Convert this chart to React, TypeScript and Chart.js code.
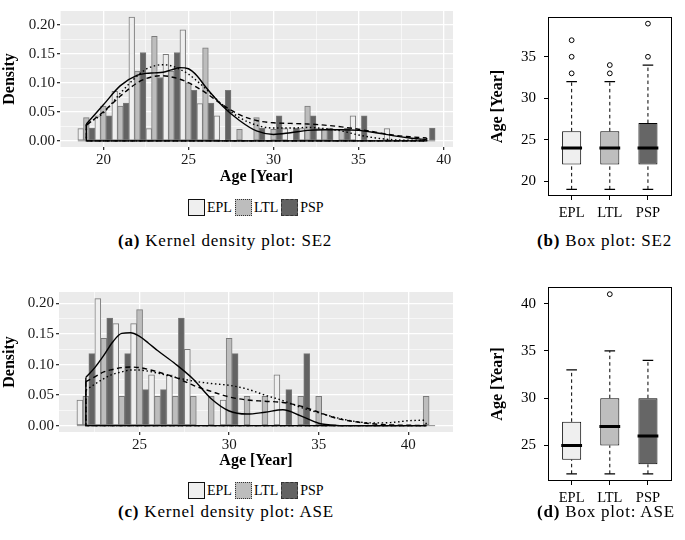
import React, { useEffect, useRef } from 'react';
import { Chart, registerables } from 'chart.js';
Chart.register(...registerables);

const FONT = "'Liberation Serif', 'Times New Roman', serif";

const GROUPS = ['EPL', 'LTL', 'PSP'];
const BAR_FILLS = ['#EFEFEF', '#BDBDBD', '#636363'];
const BOX_FILLS = ['#EFEFEF', '#BEBEBE', '#666666'];

// ---------- (a) SE2 histogram (density) ----------
const SE2_YEARS = [19, 20, 21, 22, 23, 24, 25, 26, 27, 28, 29, 30, 31, 32, 33, 34, 35, 36, 37, 38, 39];
const SE2_EPL = [0.021, 0.043, 0.085, 0.213, 0.021, 0.149, 0.191, 0.064, 0.043, 0, 0, 0, 0.021, 0.021, 0.021, 0, 0.043, 0, 0.021, 0, 0];
const SE2_LTL = [0.04, 0.06, 0.06, 0.12, 0.18, 0.12, 0.1, 0.16, 0, 0.02, 0.04, 0.02, 0, 0.06, 0.02, 0.02, 0, 0, 0, 0, 0];
const SE2_PSP = [0.022, 0.043, 0.065, 0.152, 0.109, 0.152, 0.087, 0.065, 0.087, 0, 0.022, 0.043, 0.022, 0.043, 0.022, 0.022, 0.043, 0, 0, 0, 0.022];

const SE2_KDE_X = [19, 20, 21, 22, 22.5, 23, 23.5, 24, 24.5, 25, 25.5, 26, 27, 28, 29, 30, 31, 32, 33, 34, 35, 36, 37, 38, 39];
const SE2_KDE_EPL = [0.029, 0.062, 0.095, 0.113, 0.116, 0.117, 0.118, 0.122, 0.126, 0.124, 0.112, 0.093, 0.06, 0.035, 0.017, 0.011, 0.014, 0.018, 0.019, 0.019, 0.018, 0.014, 0.009, 0.005, 0.002];
const SE2_KDE_LTL = [0.028, 0.048, 0.082, 0.112, 0.123, 0.129, 0.131, 0.129, 0.123, 0.115, 0.103, 0.09, 0.062, 0.04, 0.027, 0.022, 0.022, 0.023, 0.021, 0.017, 0.01, 0.005, 0.002, 0.001, 0.001];
const SE2_KDE_PSP = [0.027, 0.05, 0.077, 0.1, 0.107, 0.111, 0.112, 0.11, 0.106, 0.1, 0.092, 0.083, 0.062, 0.045, 0.035, 0.031, 0.03, 0.029, 0.027, 0.024, 0.02, 0.015, 0.01, 0.007, 0.005];

const SE2_X_RANGE = [17.45, 40.55];
const SE2_Y_RANGE = [-0.0106, 0.2234];
const SE2_X_MAJOR = [20, 25, 30, 35, 40];
const SE2_X_MINOR = [17.5, 22.5, 27.5, 32.5, 37.5];

// ---------- (c) ASE histogram (density) ----------
const ASE_YEARS = [22, 23, 24, 25, 26, 27, 28, 29, 30, 31, 32, 33, 34, 35, 36, 37, 38, 39, 40, 41];
const ASE_EPL = [0.042, 0.208, 0.167, 0.167, 0.083, 0.083, 0.125, 0, 0.042, 0, 0, 0.083, 0, 0, 0, 0, 0, 0, 0, 0];
const ASE_LTL = [0.048, 0.143, 0.048, 0.19, 0.048, 0.048, 0.048, 0.048, 0.143, 0.048, 0.048, 0, 0.048, 0.048, 0, 0, 0, 0, 0, 0.048];
const ASE_PSP = [0.118, 0.176, 0.118, 0.059, 0.059, 0.176, 0, 0, 0.118, 0, 0, 0.059, 0.118, 0, 0, 0, 0, 0, 0, 0];

const ASE_KDE_X = [22, 22.5, 23, 23.5, 24, 24.5, 25, 25.5, 26, 27, 28, 29, 30, 31, 32, 33, 34, 35, 36, 37, 38, 39, 40, 41];
const ASE_KDE_EPL = [0.079, 0.095, 0.115, 0.137, 0.151, 0.152, 0.146, 0.135, 0.123, 0.101, 0.076, 0.044, 0.024, 0.019, 0.022, 0.026, 0.016, 0.004, 0.0005, 0, 0, 0, 0, 0];
const ASE_KDE_LTL = [0.058, 0.068, 0.077, 0.084, 0.088, 0.091, 0.091, 0.089, 0.086, 0.079, 0.073, 0.069, 0.066, 0.06, 0.05, 0.041, 0.03, 0.021, 0.013, 0.007, 0.0045, 0.005, 0.008, 0.009];
const ASE_KDE_PSP = [0.072, 0.08, 0.088, 0.092, 0.095, 0.096, 0.095, 0.092, 0.088, 0.079, 0.066, 0.056, 0.047, 0.042, 0.04, 0.038, 0.032, 0.022, 0.012, 0.0065, 0.003, 0.0013, 0.0006, 0.0004];

const ASE_X_RANGE = [20.5, 42.5];
const ASE_Y_RANGE = [-0.0104, 0.2188];
const ASE_X_MAJOR = [25, 30, 35, 40];
const ASE_X_MINOR = [22.5, 27.5, 32.5, 37.5];

const DENS_Y_MAJOR = [0, 0.05, 0.1, 0.15, 0.2];
const DENS_Y_MINOR = [0.025, 0.075, 0.125, 0.175];

// ---------- (b) SE2 box plot ----------
const SE2_BOX_MIN = [19, 19, 19];
const SE2_BOX_Q1 = [22, 22, 22];
const SE2_BOX_MED = [24, 24, 24];
const SE2_BOX_Q3 = [26, 26, 27];
const SE2_BOX_MAX = [32, 32, 34];
const SE2_BOX_OUT = [[33, 35, 37], [33, 34], [35, 39]];
const SE2_BOX_Y_RANGE = [18.2, 39.8];
const SE2_BOX_Y_TICKS = [20, 25, 30, 35];

// ---------- (d) ASE box plot ----------
const ASE_BOX_MIN = [22, 22, 22];
const ASE_BOX_Q1 = [23.5, 25, 23];
const ASE_BOX_MED = [25, 27, 26];
const ASE_BOX_Q3 = [27.5, 30, 30];
const ASE_BOX_MAX = [33, 35, 34];
const ASE_BOX_OUT = [[], [41], []];
const ASE_BOX_Y_RANGE = [21.24, 41.76];
const ASE_BOX_Y_TICKS = [25, 30, 35, 40];

const LINE_DASH = [[], [1.5, 2.6], [5, 3.5]];

const panelBg = {
  id: 'panelBg',
  beforeDraw(chart: any, _a: any, opts: any) {
    if (!opts || !opts.color) return;
    const { ctx, chartArea } = chart;
    ctx.save();
    ctx.fillStyle = opts.color;
    ctx.fillRect(chartArea.left, chartArea.top, chartArea.right - chartArea.left, chartArea.bottom - chartArea.top);
    ctx.restore();
  },
};

const frame = {
  id: 'frame',
  afterDraw(chart: any, _a: any, opts: any) {
    if (!opts || !opts.color) return;
    const { ctx, chartArea } = chart;
    ctx.save();
    ctx.strokeStyle = opts.color;
    ctx.lineWidth = 1;
    ctx.strokeRect(Math.round(chartArea.left) + 0.5, Math.round(chartArea.top) + 0.5,
      Math.round(chartArea.right - chartArea.left) - 1, Math.round(chartArea.bottom - chartArea.top) - 1);
    ctx.restore();
  },
};

function histConfig(p: any) {
  const majorX = new Set(p.xMajor);
  const majorY = new Set(DENS_Y_MAJOR);
  const xTicks = [...p.xMajor, ...p.xMinor].sort((a: number, b: number) => a - b);
  const yTicks = [...DENS_Y_MAJOR, ...DENS_Y_MINOR].sort((a, b) => a - b);
  const series = [p.epl, p.ltl, p.psp];
  const kdes = [p.kdeEpl, p.kdeLtl, p.kdePsp];
  const n = p.kdeX.length - 1;
  const datasets: any[] = [];
  series.forEach((vals: number[], g: number) => {
    datasets.push({
      type: 'bar', label: GROUPS[g],
      data: p.years.map((x: number, i: number) => ({ x, y: vals[i] })),
      backgroundColor: BAR_FILLS[g], borderColor: '#7A7A7A', borderWidth: 1, borderSkipped: false,
      barPercentage: 1, categoryPercentage: 1, order: 5,
    });
  });
  datasets.push({
    type: 'line', data: [{ x: p.years[0] - 0.5, y: 0 }, { x: p.years[p.years.length - 1] + 0.5, y: 0 }],
    borderColor: '#8A8A8A', borderWidth: 1, pointRadius: 0, order: 4,
  });
  kdes.forEach((vals: number[], g: number) => {
    datasets.push({
      type: 'line', data: p.kdeX.map((x: number, i: number) => ({ x, y: vals[i] })),
      borderColor: '#000', borderWidth: 1.4, borderDash: LINE_DASH[g], pointRadius: 0,
      cubicInterpolationMode: 'monotone', fill: false, order: 1,
    });
    datasets.push({
      type: 'line',
      data: [{ x: p.kdeX[0], y: vals[0] }, { x: p.kdeX[0], y: 0 }, { x: p.kdeX[n], y: 0 }, { x: p.kdeX[n], y: vals[n] }],
      borderColor: '#000', borderWidth: 1.4, borderDash: LINE_DASH[g], pointRadius: 0, tension: 0, fill: false, order: 1,
    });
  });
  return {
    type: 'bar',
    data: { datasets },
    plugins: [panelBg],
    options: {
      animation: false, responsive: false, devicePixelRatio: 1, events: [],
      layout: { padding: p.padding },
      plugins: { legend: { display: false }, tooltip: { enabled: false }, panelBg: { color: '#EBEBEB' } },
      scales: {
        x: {
          type: 'linear', min: p.xRange[0], max: p.xRange[1], offset: false,
          afterBuildTicks: (s: any) => { s.ticks = xTicks.map((v: number) => ({ value: v })); },
          afterFit: (s: any) => { s.height = p.xAxisH; },
          border: { display: false },
          grid: {
            offset: false, color: '#FFFFFF', drawTicks: true, tickLength: 3,
            lineWidth: (c: any) => (c.tick && majorX.has(c.tick.value) ? 1.3 : 0.6),
            tickColor: (c: any) => (c.tick && majorX.has(c.tick.value) ? '#333333' : 'rgba(0,0,0,0)'),
          },
          ticks: {
            autoSkip: false, maxRotation: 0, padding: 1, color: '#1A1A1A', font: { family: FONT, size: 15 },
            callback: (v: any) => (majorX.has(v) ? String(v) : ''),
          },
          title: { display: true, text: 'Age [Year]', color: '#000', font: { family: FONT, size: 16, weight: 'bold' }, padding: { top: 0, bottom: 4 } },
        },
        y: {
          type: 'linear', min: p.yRange[0], max: p.yRange[1],
          afterBuildTicks: (s: any) => { s.ticks = yTicks.map((v) => ({ value: v })); },
          afterFit: (s: any) => { s.width = p.yAxisW; },
          border: { display: false },
          grid: {
            color: '#FFFFFF', drawTicks: true, tickLength: 3,
            lineWidth: (c: any) => (c.tick && majorY.has(c.tick.value) ? 1.3 : 0.6),
            tickColor: (c: any) => (c.tick && majorY.has(c.tick.value) ? '#333333' : 'rgba(0,0,0,0)'),
          },
          ticks: {
            autoSkip: false, padding: 2, color: '#1A1A1A', font: { family: FONT, size: 15 },
            callback: (v: any) => (majorY.has(v) ? Number(v).toFixed(2) : ''),
          },
          title: { display: true, text: 'Density', color: '#000', font: { family: FONT, size: 16, weight: 'bold' }, padding: { top: 0, bottom: 0 } },
        },
      },
    },
  };
}

function boxConfig(p: any) {
  const pos = GROUPS.map((_, i) => i + 1);
  const whisk: any[] = [];
  pos.forEach((x, i) => {
    whisk.push({ x, y: p.min[i] }, { x, y: p.q1[i] }, { x, y: null }, { x, y: p.q3[i] }, { x, y: p.max[i] }, { x, y: null });
  });
  const caps = pos.flatMap((x, i) => [{ x, y: p.min[i] }, { x, y: p.max[i] }]);
  const meds = pos.map((x, i) => ({ x, y: p.med[i] }));
  const outs = pos.flatMap((x, i) => p.out[i].map((y: number) => ({ x, y })));
  return {
    type: 'bar',
    data: {
      datasets: [
        { type: 'line', data: whisk, borderColor: '#000', borderWidth: 1, borderDash: [3.5, 3], pointRadius: 0, spanGaps: false, order: 3 },
        {
          type: 'bar', data: pos.map((x, i) => ({ x, y: [p.q1[i], p.q3[i]] })),
          backgroundColor: BOX_FILLS, borderColor: '#000', borderWidth: 1, borderSkipped: false,
          barPercentage: 0.5, categoryPercentage: 1, order: 2,
        },
        { type: 'scatter', data: caps, pointStyle: 'line', pointRadius: 5.3, pointBorderWidth: 1.3, pointBorderColor: '#000', order: 1 },
        { type: 'scatter', data: meds, pointStyle: 'line', pointRadius: 10.4, pointBorderWidth: 3, pointBorderColor: '#000', order: 1 },
        { type: 'scatter', data: outs, pointStyle: 'circle', pointRadius: 2.4, pointBorderWidth: 1, pointBorderColor: '#000', pointBackgroundColor: 'rgba(0,0,0,0)', order: 1 },
      ],
    },
    plugins: [frame],
    options: {
      animation: false, responsive: false, devicePixelRatio: 1, events: [],
      layout: { padding: p.padding },
      plugins: { legend: { display: false }, tooltip: { enabled: false }, frame: { color: '#000' } },
      scales: {
        x: {
          type: 'linear', min: 0.38, max: 3.62, offset: false,
          afterBuildTicks: (s: any) => { s.ticks = pos.map((v) => ({ value: v })); },
          afterFit: (s: any) => { s.height = p.xAxisH; },
          border: { display: false },
          grid: { offset: false, drawOnChartArea: false, drawTicks: true, tickLength: 4, tickColor: '#000', color: 'rgba(0,0,0,0)' },
          ticks: { autoSkip: false, maxRotation: 0, padding: 4, color: '#000', font: { family: FONT, size: 14.5 }, callback: (v: any) => GROUPS[v - 1] || '' },
        },
        y: {
          type: 'linear', min: p.yRange[0], max: p.yRange[1],
          afterBuildTicks: (s: any) => { s.ticks = p.yTicks.map((v: number) => ({ value: v })); },
          afterFit: (s: any) => { s.width = p.yAxisW; },
          border: { display: false },
          grid: { drawOnChartArea: false, drawTicks: true, tickLength: 4, tickColor: '#000', color: 'rgba(0,0,0,0)' },
          ticks: { autoSkip: false, padding: 8, color: '#000', font: { family: FONT, size: 15 }, callback: (v: any) => String(v) },
          title: { display: true, text: 'Age [Year]', color: '#000', font: { family: FONT, size: 16, weight: 'bold' }, padding: { top: 0, bottom: 0 } },
        },
      },
    },
  };
}

function ChartCanvas({ make, left, top, width, height }: any) {
  const ref = useRef<HTMLCanvasElement>(null);
  useEffect(() => {
    const chart = new Chart(ref.current as HTMLCanvasElement, make());
    return () => chart.destroy();
  }, []);
  return <canvas ref={ref} width={width} height={height} style={{ position: 'absolute', left, top, width, height }} />;
}

function Legend({ left, top }: any) {
  const borders = ['1.5px solid #111', '1.3px dotted #333', '1.3px dashed #333'];
  return (
    <div style={{ position: 'absolute', left, top, display: 'flex', alignItems: 'center', fontFamily: FONT, fontSize: 14, color: '#000' }}>
      {GROUPS.map((g, i) => (
        <div key={g} style={{ display: 'flex', alignItems: 'center', marginRight: 3 }}>
          <div style={{ width: 17, height: 17, boxSizing: 'border-box', background: BAR_FILLS[i], border: borders[i] }} />
          <span style={{ marginLeft: 2 }}>{g}</span>
        </div>
      ))}
    </div>
  );
}

function Caption({ left, top, tag, text }: any) {
  return (
    <div style={{ position: 'absolute', left, top, fontFamily: FONT, fontSize: 17, letterSpacing: 0.8, lineHeight: '20px', whiteSpace: 'nowrap', color: '#000' }}>
      <b>{tag}</b> {text}
    </div>
  );
}

export default function App() {
  return (
    <div style={{ position: 'absolute', left: 0, top: 0, width: 685, height: 540, background: '#fff', overflow: 'hidden' }}>
      <ChartCanvas left={0} top={0} width={460} height={190} make={() => histConfig({
        years: SE2_YEARS, epl: SE2_EPL, ltl: SE2_LTL, psp: SE2_PSP,
        kdeX: SE2_KDE_X, kdeEpl: SE2_KDE_EPL, kdeLtl: SE2_KDE_LTL, kdePsp: SE2_KDE_PSP,
        xRange: SE2_X_RANGE, yRange: SE2_Y_RANGE, xMajor: SE2_X_MAJOR, xMinor: SE2_X_MINOR,
        padding: { top: 7, right: 7, left: 0, bottom: 0 }, yAxisW: 60, xAxisH: 43,
      })} />
      <ChartCanvas left={0} top={280} width={460} height={194} make={() => histConfig({
        years: ASE_YEARS, epl: ASE_EPL, ltl: ASE_LTL, psp: ASE_PSP,
        kdeX: ASE_KDE_X, kdeEpl: ASE_KDE_EPL, kdeLtl: ASE_KDE_LTL, kdePsp: ASE_KDE_PSP,
        xRange: ASE_X_RANGE, yRange: ASE_Y_RANGE, xMajor: ASE_X_MAJOR, xMinor: ASE_X_MINOR,
        padding: { top: 12, right: 7, left: 0, bottom: 0 }, yAxisW: 59, xAxisH: 42,
      })} />
      <ChartCanvas left={470} top={0} width={215} height={225} make={() => boxConfig({
        min: SE2_BOX_MIN, q1: SE2_BOX_Q1, med: SE2_BOX_MED, q3: SE2_BOX_Q3, max: SE2_BOX_MAX, out: SE2_BOX_OUT,
        yRange: SE2_BOX_Y_RANGE, yTicks: SE2_BOX_Y_TICKS,
        padding: { top: 1, right: 2, left: 18, bottom: 0 }, yAxisW: 60, xAxisH: 29,
      })} />
      <ChartCanvas left={470} top={270} width={215} height={241} make={() => boxConfig({
        min: ASE_BOX_MIN, q1: ASE_BOX_Q1, med: ASE_BOX_MED, q3: ASE_BOX_Q3, max: ASE_BOX_MAX, out: ASE_BOX_OUT,
        yRange: ASE_BOX_Y_RANGE, yTicks: ASE_BOX_Y_TICKS,
        padding: { top: 14, right: 2, left: 18, bottom: 0 }, yAxisW: 60, xAxisH: 30,
      })} />
      <Legend left={188} top={199} />
      <Legend left={188} top={482} />
      <Caption left={118} top={231} tag="(a)" text="Kernel density plot: SE2" />
      <Caption left={537} top={231} tag="(b)" text="Box plot: SE2" />
      <Caption left={118} top={502} tag="(c)" text="Kernel density plot: ASE" />
      <Caption left={537} top={502} tag="(d)" text="Box plot: ASE" />
    </div>
  );
}
